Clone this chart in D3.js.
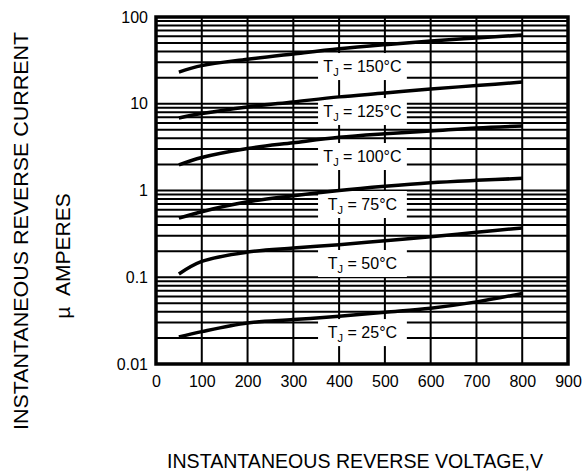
<!DOCTYPE html>
<html>
<head>
<meta charset="utf-8">
<script src="https://cdn.jsdelivr.net/npm/d3@7"></script>
<style>
  body { margin: 0; background: #fff; }
  svg text { font-family: "Liberation Sans", Arial, sans-serif; fill: #000; }
</style>
</head>
<body>
<svg id="chart" width="582" height="475"></svg>
<script>
// reverse voltage (V) where the curves were read
var voltage = [50, 100, 200, 300, 400, 500, 600, 700, 800];

// reverse current in uA, one array per junction temperature
var tj150 = [23.2, 27.5, 32.5, 37.5, 43, 48, 52.9, 57.3, 62];
var tj125 = [6.85, 7.7, 9.2, 10.5, 12, 13.3, 14.8, 16.2, 17.8];
var tj100 = [1.97, 2.4, 3.05, 3.55, 4.1, 4.5, 4.85, 5.25, 5.55];
var tj75 = [0.48, 0.57, 0.74, 0.87, 1.0, 1.12, 1.23, 1.31, 1.38];
var tj50 = [0.109, 0.152, 0.195, 0.217, 0.237, 0.264, 0.293, 0.33, 0.37];
var tj25 = [0.0205, 0.0236, 0.0297, 0.0325, 0.0355, 0.0395, 0.044, 0.052, 0.065];

var temps = ["150", "125", "100", "75", "50", "25"];
var labelY = [23.2, 7.03, 2.13, 0.596, 0.1245, 0.0199]; // label baselines, in uA
var labelX = 451; // label centre, in V
var labelBand = [354, 548]; // white box behind labels, in V

var xTicks = [0, 100, 200, 300, 400, 500, 600, 700, 800, 900];
var yTicks = [0.01, 0.1, 1, 10, 100];
var yTickLabels = ["0.01", "0.1", "1", "10", "100"];

var svg = d3.select("#chart");
var margin = { top: 17, right: 14, bottom: 111, left: 156 };
var width = +svg.attr("width") - margin.left - margin.right;
var height = +svg.attr("height") - margin.top - margin.bottom;

var xScale = d3.scaleLinear().domain([0, 900]).range([0, width]);
var yScale = d3.scaleLog().domain([0.01, 100]).range([height, 0]);

var g = svg.append("g")
    .attr("transform", "translate(" + margin.left + "," + margin.top + ")");

// log grid: every 1..9 in each decade
var minor = [];
for (var d = -2; d < 2; d++) {
    for (var k = 1; k < 10; k++) {
        minor.push(k * Math.pow(10, d));
    }
}

g.selectAll(".hgrid")
    .data(minor)
    .enter().append("line")
    .attr("class", "hgrid")
    .attr("x1", 0)
    .attr("x2", width)
    .attr("y1", function (v) { return yScale(v); })
    .attr("y2", function (v) { return yScale(v); })
    .attr("stroke", "#000")
    .attr("stroke-width", 2);

g.selectAll(".vgrid")
    .data(xTicks)
    .enter().append("line")
    .attr("class", "vgrid")
    .attr("x1", function (v) { return xScale(v); })
    .attr("x2", function (v) { return xScale(v); })
    .attr("y1", 0)
    .attr("y2", height)
    .attr("stroke", "#000")
    .attr("stroke-width", 2);

// white boxes that hold the TJ labels
g.selectAll(".lblbox")
    .data(labelY)
    .enter().append("rect")
    .attr("class", "lblbox")
    .attr("x", xScale(labelBand[0]))
    .attr("width", xScale(labelBand[1]) - xScale(labelBand[0]))
    .attr("y", function (v) { return yScale(v) - 19; })
    .attr("height", 27)
    .attr("fill", "#fff");

var series = [tj150, tj125, tj100, tj75, tj50, tj25];

var line = d3.line()
    .x(function (d) { return xScale(d[0]); })
    .y(function (d) { return yScale(d[1]); })
    .curve(d3.curveCatmullRom.alpha(0.5));

g.selectAll(".curve")
    .data(series.map(function (s) {
        return s.map(function (v, i) { return [voltage[i], v]; });
    }))
    .enter().append("path")
    .attr("class", "curve")
    .attr("d", line)
    .attr("fill", "none")
    .attr("stroke", "#000")
    .attr("stroke-width", 3.5);

var labels = g.selectAll(".tj")
    .data(temps)
    .enter().append("text")
    .attr("class", "tj")
    .attr("x", xScale(labelX))
    .attr("y", function (t, i) { return yScale(labelY[i]); })
    .attr("text-anchor", "middle")
    .style("font-size", "16px");
labels.append("tspan").text("T");
labels.append("tspan").attr("dy", 4).style("font-size", "11px").text("J");
labels.append("tspan").attr("dy", -4).text(function (t) { return " = " + t + "\u00B0C"; });

// frame
g.append("rect")
    .attr("width", width)
    .attr("height", height)
    .attr("fill", "none")
    .attr("stroke", "#000")
    .attr("stroke-width", 3.5);

var xAxis = d3.axisBottom(xScale)
    .tickValues(xTicks)
    .tickSize(0)
    .tickPadding(12);

var yAxis = d3.axisLeft(yScale)
    .tickValues(yTicks)
    .tickFormat(function (d, i) { return yTickLabels[i]; })
    .tickSize(0)
    .tickPadding(8);

var gx = g.append("g")
    .attr("transform", "translate(0," + height + ")")
    .call(xAxis);
var gy = g.append("g").call(yAxis);

[gx, gy].forEach(function (a) {
    a.select(".domain").remove();
    a.selectAll("text")
        .style("font-size", "16px")
        .style("font-family", "'Liberation Sans', Arial, sans-serif");
});

// axis titles
svg.append("text")
    .attr("transform", "translate(28,231) rotate(-90)")
    .attr("text-anchor", "middle")
    .attr("textLength", 398)
    .attr("lengthAdjust", "spacingAndGlyphs")
    .style("font-size", "21px")
    .text("INSTANTANEOUS REVERSE CURRENT");

svg.append("text")
    .attr("transform", "translate(70,256) rotate(-90)")
    .attr("text-anchor", "middle")
    .style("font-size", "21px")
    .style("white-space", "pre")
    .text("\u00B5  AMPERES");

svg.append("text")
    .attr("x", 355)
    .attr("y", 468)
    .attr("text-anchor", "middle")
    .attr("textLength", 376)
    .attr("lengthAdjust", "spacingAndGlyphs")
    .style("font-size", "20px")
    .text("INSTANTANEOUS REVERSE VOLTAGE,V");
</script>
</body>
</html>
